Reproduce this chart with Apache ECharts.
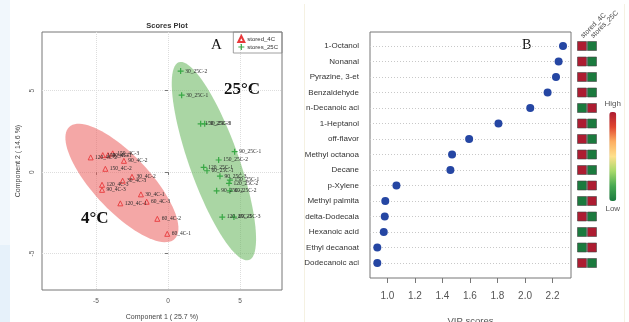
<!DOCTYPE html>
<html>
<head>
<meta charset="utf-8">
<script src="https://cdn.jsdelivr.net/npm/echarts@6.0.0/dist/echarts.min.js"></script>
<style>
  html, body { margin: 0; padding: 0; background: #fff; }
  #main { width: 629px; height: 322px; }
</style>
</head>
<body>
<div id="main"></div>
<script>
// panel A: scores plot
const cold4Names = ['120_4C-2', '150_4C-1', '90_4C-1', '150_4C-3', '90_4C-2', '150_4C-2', '30_4C-2', '30_4C-3', '120_4C-3', '90_4C-3', '30_4C-1', '60_4C-3', '120_4C-1', '60_4C-2', '60_4C-1']
const cold4X = [-5.37, -4.53, -4.17, -3.84, -3.06, -4.35, -2.50, -3.15, -4.58, -4.58, -1.88, -1.48, -3.31, -0.74, -0.05]
const cold4Y = [0.90, 1.04, 1.04, 1.15, 0.69, 0.20, -0.29, -0.53, -0.78, -1.09, -1.37, -1.82, -1.92, -2.87, -3.79]

const warm25Names = ['30_25C-2', '30_25C-1', '150_25C-3', '30_25C-3', '90_25C-1', '150_25C-2', '120_25C-1', '60_25C-1', '90_25C-3', '150_25C-1', '120_25C-2', '90_25C-2', '60_25C-2', '120_25C-3', '60_25C-3']
const warm25X = [0.88, 0.95, 2.27, 2.55, 4.63, 3.52, 2.48, 2.71, 3.61, 4.30, 4.24, 3.38, 4.30, 3.77, 4.58]
const warm25Y = [6.20, 4.72, 2.96, 2.96, 1.25, 0.74, 0.29, 0.08, -0.25, -0.49, -0.69, -1.15, -1.15, -2.76, -2.76]

// confidence ellipses: centre x, centre y, major vector (x, y), minor vector (x, y)
const cold4Ellipse = [-3.2, -0.67, 3.66, -3.44, -1.42, -1.175]
const warm25Ellipse = [3.19, 0.67, 2.44, -6.07, -1.62, -0.51]

const scoreTicks = [-5, 0, 5]

// panel B: VIP scores
const vipNames = ['1-Octanol', 'Nonanal', 'Pyrazine, 3-et', 'Benzaldehyde', 'n-Decanoic aci', '1-Heptanol', 'off-flavor', 'Methyl octanoa', 'Decane', 'p-Xylene', 'Methyl palmita', 'delta-Dodecala', 'Hexanoic acid', 'Ethyl decanoat', 'Dodecanoic aci']
const vipScores = [2.276, 2.244, 2.225, 2.164, 2.038, 1.807, 1.594, 1.470, 1.458, 1.066, 0.985, 0.981, 0.974, 0.927, 0.927]
const vipTicks = [1.0, 1.2, 1.4, 1.6, 1.8, 2.0, 2.2]
const groups = ['stored_4C', 'stores_25C']
const level4C = [1, 1, 1, 1, -1, 1, 1, 1, 1, -1, -1, 1, -1, -1, 1]
const level25C = [-1, -1, -1, -1, 1, -1, -1, -1, -1, 1, 1, -1, 1, 1, -1]

const plusPath = 'path://M4,0H6V4H10V6H6V10H4V6H0V4H4Z'

function ellipseItem (params, api) {
  const cx = api.value(0)
  const cy = api.value(1)
  const ax = api.value(2)
  const ay = api.value(3)
  const bx = api.value(4)
  const by = api.value(5)
  const pts = []
  for (let i = 0; i < 90; i++) {
    const t = i / 90 * Math.PI * 2
    pts.push(api.coord([cx + ax * Math.cos(t) + bx * Math.sin(t), cy + ay * Math.cos(t) + by * Math.sin(t)]))
  }
  return { type: 'polygon', shape: { points: pts }, style: { fill: api.visual('color') } }
}

const heatData = []
for (let i = 0; i < vipNames.length; i++) {
  heatData.push([0, vipNames[i], level4C[i]])
  heatData.push([1, vipNames[i], level25C[i]])
}

const pointLabel = {
  show: true,
  position: 'right',
  distance: 1.5,
  formatter: p => p.name,
  fontSize: 5.5,
  fontFamily: 'Liberation Serif',
  color: '#2a2a2a'
}

const tickFont = { fontSize: 6.5, color: '#555', fontFamily: 'Liberation Sans' }

const chart = echarts.init(document.getElementById('main'))
chart.setOption({
  animation: false,
  backgroundColor: '#fff',
  title: {
    text: 'Scores Plot',
    left: 162,
    top: 17,
    textAlign: 'center',
    textStyle: { fontSize: 7.5, fontWeight: 'bold', color: '#333', fontFamily: 'Liberation Sans' }
  },
  legend: {
    data: ['stored_4C', 'stores_25C'],
    orient: 'vertical',
    right: 347,
    top: 32,
    padding: [3, 4, 3, 4],
    itemGap: 1,
    itemWidth: 6,
    itemHeight: 6,
    borderColor: '#888',
    borderWidth: 0.8,
    textStyle: { fontSize: 6, color: '#333', fontFamily: 'Liberation Sans', padding: [0, 0, 0, -2] }
  },
  grid: [
    { left: 42, top: 32, width: 240, height: 258, show: true, borderColor: '#777', borderWidth: 1, outerBoundsMode: 'none' },
    { left: 370, top: 32, width: 201, height: 246, show: true, borderColor: '#777', borderWidth: 1, outerBoundsMode: 'none' },
    { left: 370, top: 46, width: 201, height: 217, outerBoundsMode: 'none' },
    { left: 577, top: 46, width: 20, height: 217, outerBoundsMode: 'none' }
  ],
  xAxis: [
    {
      gridIndex: 0, type: 'value', min: -8.75, max: 7.92,
      name: 'Component 1 ( 25.7 %)', nameLocation: 'middle', nameGap: 24,
      nameTextStyle: { fontSize: 7, color: '#444', fontFamily: 'Liberation Sans' },
      axisLine: { show: false },
      axisTick: { show: true, length: 3, customValues: scoreTicks, lineStyle: { color: '#777' } },
      axisLabel: { customValues: scoreTicks, margin: 8, ...tickFont },
      splitLine: { show: true, lineStyle: { color: '#ddd', type: 'dotted' } }
    },
    {
      gridIndex: 1, type: 'value', min: 0.874, max: 2.334,
      name: 'VIP scores', nameLocation: 'middle', nameGap: 38,
      nameTextStyle: { fontSize: 9.5, color: '#555', fontFamily: 'Liberation Sans' },
      axisLine: { show: false },
      axisTick: { show: true, length: 5, customValues: vipTicks, lineStyle: { color: '#777' } },
      axisLabel: { customValues: vipTicks, margin: 13, formatter: v => v.toFixed(1), fontSize: 10, color: '#555', fontFamily: 'Liberation Sans' },
      splitLine: { show: false }
    },
    {
      gridIndex: 2, type: 'value', min: 0.874, max: 2.334, show: false
    },
    {
      gridIndex: 3, type: 'category', data: groups, position: 'top',
      axisLine: { show: false }, axisTick: { show: false },
      axisLabel: { rotate: -45, align: 'left', verticalAlign: 'middle', margin: 9, fontSize: 7, color: '#444', fontFamily: 'Liberation Sans', interval: 0 }
    }
  ],
  yAxis: [
    {
      gridIndex: 0, type: 'value', min: -7.24, max: 8.6,
      name: 'Component 2 ( 14.6 %)', nameLocation: 'middle', nameGap: 20,
      nameTextStyle: { fontSize: 7, color: '#444', fontFamily: 'Liberation Sans' },
      axisLine: { show: false },
      axisTick: { show: true, length: 3, customValues: scoreTicks, lineStyle: { color: '#777' } },
      axisLabel: { customValues: scoreTicks, rotate: 90, margin: 6, ...tickFont },
      splitLine: { show: true, lineStyle: { color: '#ddd', type: 'dotted' } }
    },
    { gridIndex: 1, type: 'value', min: 0, max: 1, show: false },
    {
      gridIndex: 2, type: 'category', data: vipNames, inverse: true, boundaryGap: false,
      axisLine: { show: false }, axisTick: { show: false },
      axisLabel: { interval: 0, margin: 11, fontSize: 8, color: '#333', fontFamily: 'Liberation Sans' },
      splitLine: { show: true, interval: 0, lineStyle: { color: '#c8c8c8', type: [1, 2] } }
    },
    { gridIndex: 3, type: 'category', data: vipNames, inverse: true, boundaryGap: false, show: false }
  ],
  visualMap: {
    type: 'continuous',
    seriesIndex: 5,
    dimension: 2,
    min: -1,
    max: 1,
    calculable: false,
    orient: 'vertical',
    right: 8,
    top: 100,
    padding: 0,
    itemWidth: 7,
    itemHeight: 89,
    text: ['High', 'Low'],
    textGap: 4,
    textStyle: { fontSize: 8, color: '#555', fontFamily: 'Liberation Sans' },
    inRange: { color: ['#1b7a3e', '#46a851', '#a6d96a', '#fee08b', '#fdae61', '#e0452f', '#ad1c31'] }
  },
  series: [
    {
      type: 'custom', xAxisIndex: 0, yAxisIndex: 0, renderItem: ellipseItem,
      itemStyle: { color: 'rgba(235,95,93,0.55)' }, encode: { x: 0, y: 1 },
      data: [cold4Ellipse], silent: true, z: 1
    },
    {
      type: 'custom', xAxisIndex: 0, yAxisIndex: 0, renderItem: ellipseItem,
      itemStyle: { color: 'rgba(100,180,90,0.55)' }, encode: { x: 0, y: 1 },
      data: [warm25Ellipse], silent: true, z: 1
    },
    {
      name: 'stored_4C', type: 'scatter', xAxisIndex: 0, yAxisIndex: 0,
      symbol: 'triangle', symbolSize: 5,
      itemStyle: { color: 'rgba(255,255,255,0)', borderColor: '#e8393b', borderWidth: 0.9, opacity: 1 },
      label: pointLabel,
      data: cold4Names.map((n, i) => ({ name: n, value: [cold4X[i], cold4Y[i]] })),
      z: 3
    },
    {
      name: 'stores_25C', type: 'scatter', xAxisIndex: 0, yAxisIndex: 0,
      symbol: plusPath, symbolSize: 6,
      itemStyle: { color: '#39a845', opacity: 1 },
      label: pointLabel,
      data: warm25Names.map((n, i) => ({ name: n, value: [warm25X[i], warm25Y[i]] })),
      z: 3
    },
    {
      type: 'scatter', xAxisIndex: 2, yAxisIndex: 2,
      symbolSize: 8,
      itemStyle: { color: '#2546a3', opacity: 1 },
      data: vipNames.map((n, i) => [vipScores[i], n]),
      z: 3
    },
    {
      type: 'scatter', xAxisIndex: 3, yAxisIndex: 3,
      symbol: 'rect', symbolSize: 9,
      itemStyle: { borderColor: '#444', borderWidth: 0.6, opacity: 1 },
      data: heatData
    }
  ],
  graphic: [
    { type: 'rect', left: 0, top: 0, shape: { width: 10, height: 322 }, style: { fill: '#f1f7fc' }, z: -10 },
    { type: 'rect', left: 0, top: 245, shape: { width: 10, height: 77 }, style: { fill: '#e6f1fa' }, z: -9 },
    { type: 'rect', left: 304, top: 4, shape: { width: 1, height: 318 }, style: { fill: '#f5f1e2' }, z: -9 },
    { type: 'rect', left: 624, top: 4, shape: { width: 1, height: 318 }, style: { fill: '#f5f1e2' }, z: -9 },
    { type: 'text', left: 211, top: 38, style: { text: 'A', font: '15px "Liberation Serif"', fill: '#111' } },
    { type: 'text', left: 224, top: 81, style: { text: '25°C', font: 'bold 17px "Liberation Serif"', fill: '#111' } },
    { type: 'text', left: 81, top: 210, style: { text: '4°C', font: 'bold 17px "Liberation Serif"', fill: '#111' } },
    { type: 'text', left: 522, top: 38, style: { text: 'B', font: '14px "Liberation Serif"', fill: '#111' } }
  ]
})
</script>
</body>
</html>
